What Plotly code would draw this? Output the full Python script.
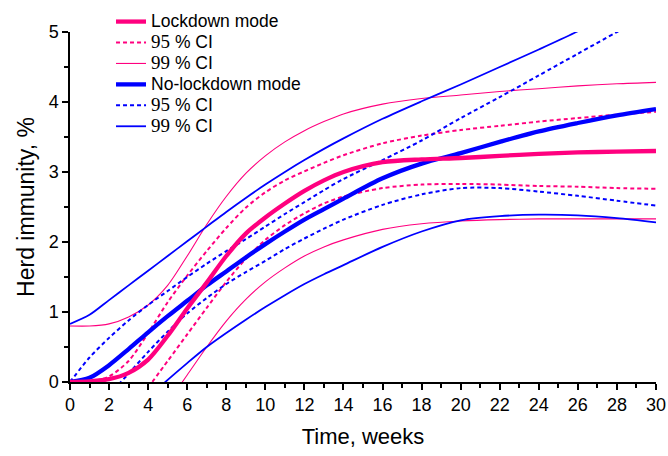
import plotly.graph_objects as go

# ---- data ----
weeks = [0, 1, 2, 3, 4, 5, 6, 7, 8, 9, 10, 11, 12, 13, 14, 16, 18, 20, 22, 24, 26, 28, 30]

lock_mean = [0, 0.01, 0.04, 0.13, 0.32, 0.66, 1.05, 1.42, 1.8, 2.12, 2.35, 2.55, 2.73, 2.88, 3.0,
             3.14, 3.18, 3.2, 3.23, 3.26, 3.28, 3.29, 3.3]
lock_95_up = [None, 0.0, 0.08, 0.3, 0.7, 1.14, 1.52, 1.87, 2.2, 2.49, 2.71, 2.88, 3.01, 3.13, 3.24,
              3.41, 3.52, 3.6, 3.66, 3.72, 3.77, 3.82, 3.86]
lock_95_lo = [None, None, None, None, -0.08, 0.3, 0.68, 1.06, 1.43, 1.76, 2.03, 2.24, 2.41, 2.55, 2.65,
              2.77, 2.82, 2.83, 2.82, 2.8, 2.79, 2.77, 2.76]
lock_99_up = [0.8, 0.8, 0.83, 0.93, 1.1, 1.38, 1.8, 2.25, 2.65, 2.98, 3.23, 3.43, 3.59, 3.72, 3.83,
              3.97, 4.05, 4.1, 4.15, 4.19, 4.23, 4.26, 4.28]
lock_99_lo = [None, None, None, None, None, -0.3, 0.1, 0.5, 0.87, 1.18, 1.43, 1.63, 1.8, 1.93, 2.03,
              2.18, 2.26, 2.3, 2.32, 2.33, 2.33, 2.33, 2.33]

nolock_mean = [0, 0.06, 0.24, 0.47, 0.71, 0.94, 1.16, 1.38, 1.58, 1.78, 1.97, 2.15, 2.32, 2.47, 2.62,
               2.91, 3.12, 3.27, 3.43, 3.58, 3.7, 3.81, 3.9]
nolock_95_up = [0, 0.35, 0.63, 0.88, 1.1, 1.3, 1.5, 1.69, 1.87, 2.04, 2.22, 2.4, 2.57, 2.74, 2.9,
                3.17, 3.45, 3.77, 4.07, 4.38, 4.69, 5.0, 5.3]
nolock_95_lo = [None, None, -0.18, 0.12, 0.43, 0.72, 0.98, 1.2, 1.4, 1.57, 1.73, 1.9, 2.05, 2.19, 2.32,
                2.53, 2.68, 2.77, 2.77, 2.72, 2.66, 2.59, 2.52]
nolock_99_up = [0.83, 0.96, 1.17, 1.38, 1.59, 1.8, 2.01, 2.22, 2.43, 2.63, 2.82, 3.0, 3.17, 3.33, 3.48,
                3.76, 4.01, 4.25, 4.5, 4.75, 5.01, 5.3, 5.55]
nolock_99_lo = [None, None, None, None, -0.22, 0.03, 0.27, 0.5, 0.7, 0.89, 1.07, 1.24, 1.4, 1.54, 1.67,
                1.93, 2.15, 2.31, 2.37, 2.39, 2.38, 2.34, 2.28]

x_ticks = list(range(0, 31, 2))
y_ticks = [0, 1, 2, 3, 4, 5]

PINK = "#FF007F"
BLUE = "#0000FF"
SERIF = "Liberation Serif"
LEG_PX = 17.5


def big(text):
    return f"<span style='font-size:{LEG_PX}px'>{text}</span>"


def ci_label(num):
    return (f"<span style='font-family:{SERIF};font-size:{LEG_PX + 1.5}px'>{num}</span>"
            f"<span style='font-size:{LEG_PX}px'> % CI</span>")


fig = go.Figure()


def add(y, name, color, width, dash, group):
    fig.add_trace(go.Scatter(
        x=weeks, y=y, mode="lines", name=name,
        line=dict(color=color, width=width, dash=dash, shape="spline", smoothing=0.8),
        legendgroup=group, showlegend=False, connectgaps=False, hoverinfo="skip"))


# draw CIs first so means are on top
add(lock_99_up, "99 % CI", PINK, 1.1, "solid", "l99")
add(lock_99_lo, "99 % CI", PINK, 1.1, "solid", "l99")
add(nolock_99_up, "99 % CI", BLUE, 1.8, "solid", "n99")
add(nolock_99_lo, "99 % CI", BLUE, 1.8, "solid", "n99")
add(lock_95_up, "95 % CI", PINK, 2, "4px,3px", "l95")
add(lock_95_lo, "95 % CI", PINK, 2, "4px,3px", "l95")
add(nolock_95_up, "95 % CI", BLUE, 2, "4px,3px", "n95")
add(nolock_95_lo, "95 % CI", BLUE, 2, "4px,3px", "n95")
add(nolock_mean, "No-lockdown mode", BLUE, 4.3, "solid", "nm")
add(lock_mean, "Lockdown mode", PINK, 4.3, "solid", "lm")

# legend entries (order as in reference)
legend_items = [
    (big("Lockdown mode"), PINK, 4.3, "solid"),
    (ci_label(95), PINK, 2, "4px,3px"),
    (ci_label(99), PINK, 1.1, "solid"),
    (big("No-lockdown mode"), BLUE, 4.3, "solid"),
    (ci_label(95), BLUE, 2, "4px,3px"),
    (ci_label(99), BLUE, 1.8, "solid"),
]
for name, color, width, dash in legend_items:
    fig.add_trace(go.Scatter(x=[None], y=[None], mode="lines", name=name,
                             line=dict(color=color, width=width, dash=dash),
                             showlegend=True, hoverinfo="skip"))

axis_common = dict(
    showgrid=False, zeroline=False, showline=True, linecolor="black", linewidth=1.5,
    ticks="outside", ticklen=6, tickwidth=1.5, tickcolor="black",
    tickfont=dict(family="Liberation Sans", size=18, color="black"),
    mirror=False,
)

fig.update_xaxes(
    range=[0, 30], tickvals=x_ticks, ticktext=[str(v) for v in x_ticks],
    minor=dict(dtick=1, tick0=0, ticks="outside", ticklen=4, tickwidth=1.5, tickcolor="black", showgrid=False),
    title=dict(text="Time, weeks", font=dict(family="Liberation Sans", size=22, color="black"), standoff=14),
    **axis_common)
fig.update_yaxes(
    range=[0, 5], tickvals=y_ticks, ticktext=[str(v) for v in y_ticks],
    minor=dict(dtick=0.5, tick0=0, ticks="outside", ticklen=4, tickwidth=1.5, tickcolor="black", showgrid=False),
    title=dict(text="Herd immunity, %", font=dict(family="Liberation Sans", size=23, color="black"), standoff=8),
    **axis_common)

fig.update_layout(
    width=668, height=456,
    margin=dict(l=70, r=12, t=32, b=74, autoexpand=False),
    paper_bgcolor="white", plot_bgcolor="white",
    showlegend=True,
    legend=dict(x=0.07, y=1.074, xanchor="left", yanchor="top",
                bgcolor="rgba(0,0,0,0)", tracegroupgap=0,
                font=dict(family="Liberation Sans", size=13.8, color="black")),
)

fig.write_html("out.html")
